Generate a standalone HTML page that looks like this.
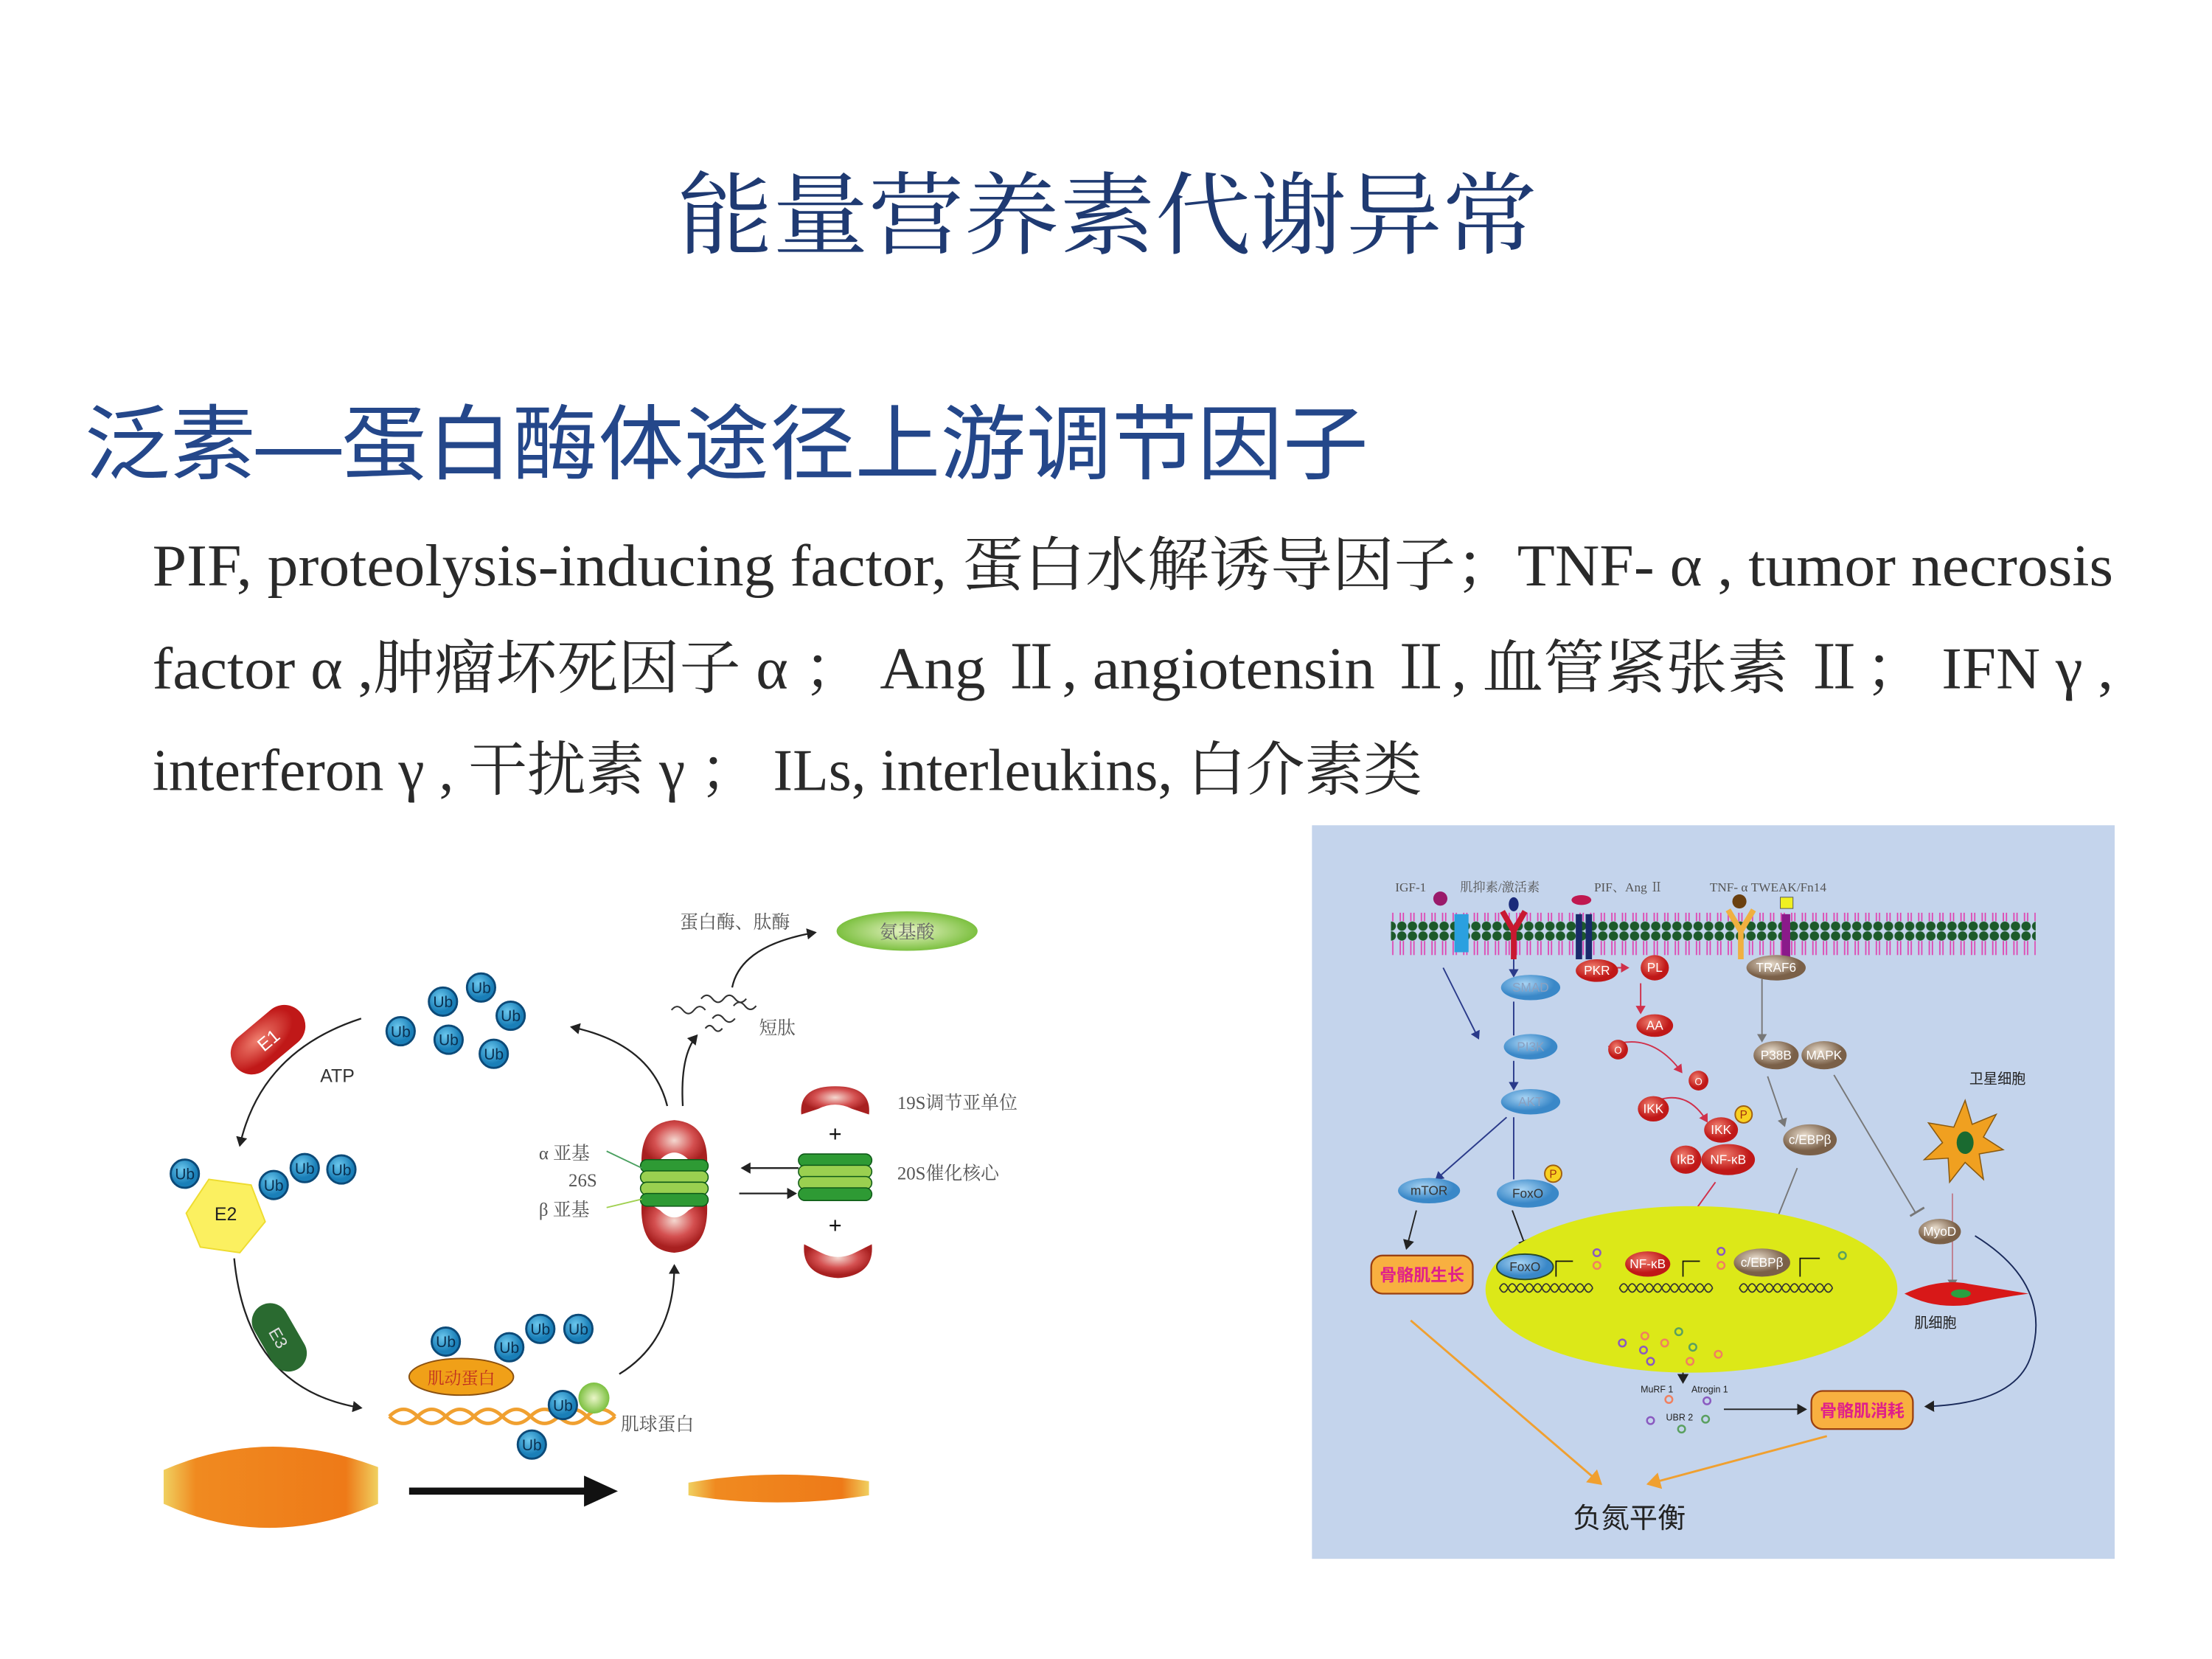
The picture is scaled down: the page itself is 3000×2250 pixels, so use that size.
<!DOCTYPE html>
<html><head><meta charset="utf-8"><style>
html,body{margin:0;padding:0;background:#fff}
svg{display:block}
.ser{font-family:"Liberation Serif","Noto Serif CJK SC",serif}
.san{font-family:"Liberation Sans","Noto Sans CJK SC",sans-serif}
</style></head><body>
<svg width="3000" height="2250" viewBox="0 0 1568 1176" preserveAspectRatio="none" xmlns="http://www.w3.org/2000/svg">
<defs>
<marker id="ak" markerWidth="8" markerHeight="8" refX="6" refY="4" orient="auto" markerUnits="userSpaceOnUse"><path d="M0,0 L7,4 L0,8 Z" fill="#222"/></marker>
<marker id="ab" markerWidth="7" markerHeight="7" refX="5" refY="3.5" orient="auto" markerUnits="userSpaceOnUse"><path d="M0,0 L6,3.5 L0,7 Z" fill="#2a3a8a"/></marker>
<marker id="ar" markerWidth="7" markerHeight="7" refX="5" refY="3.5" orient="auto" markerUnits="userSpaceOnUse"><path d="M0,0 L6,3.5 L0,7 Z" fill="#d0304a"/></marker>
<marker id="ag" markerWidth="7" markerHeight="7" refX="5" refY="3.5" orient="auto" markerUnits="userSpaceOnUse"><path d="M0,0 L6,3.5 L0,7 Z" fill="#777"/></marker>
<marker id="ao" markerWidth="12" markerHeight="12" refX="9" refY="6" orient="auto" markerUnits="userSpaceOnUse"><path d="M0,0 L10,6 L0,12 Z" fill="#f0a030"/></marker>
<marker id="abig" markerWidth="26" markerHeight="22" refX="4" refY="11" orient="auto" markerUnits="userSpaceOnUse"><path d="M0,0 L24,11 L0,22 Z" fill="#111"/></marker>
<pattern id="heads" width="7.5" height="30" patternUnits="userSpaceOnUse"><circle cx="3.7" cy="3.5" r="3.3" fill="#1d5a2a"/><circle cx="3.7" cy="26.5" r="3.3" fill="#1d5a2a"/><path d="M2.6,7 V23 M4.8,7 V23" stroke="#e040b0" stroke-width="0.9"/></pattern>
<radialGradient id="ub" cx="40%" cy="35%"><stop offset="0" stop-color="#6cc8ee"/><stop offset="1" stop-color="#1a7fb8"/></radialGradient>
<radialGradient id="rc" cx="50%" cy="40%"><stop offset="0" stop-color="#f4d8d0"/><stop offset="0.6" stop-color="#d45050"/><stop offset="1" stop-color="#a82020"/></radialGradient>
<radialGradient id="rb" cx="40%" cy="35%"><stop offset="0" stop-color="#f08070"/><stop offset="1" stop-color="#c01818"/></radialGradient>
<radialGradient id="bb" cx="40%" cy="35%"><stop offset="0" stop-color="#a8d4f4"/><stop offset="1" stop-color="#3a88c8"/></radialGradient>
<radialGradient id="br" cx="40%" cy="35%"><stop offset="0" stop-color="#e8dccc"/><stop offset="1" stop-color="#7a6048"/></radialGradient>
<linearGradient id="mus" x1="0" x2="1" y1="0" y2="0"><stop offset="0" stop-color="#f0d060"/><stop offset="0.15" stop-color="#f08a20"/><stop offset="0.85" stop-color="#ee7a18"/><stop offset="1" stop-color="#f0d060"/></linearGradient>
<radialGradient id="gb" cx="50%" cy="50%"><stop offset="0" stop-color="#eaf5c8"/><stop offset="1" stop-color="#7cc040"/></radialGradient>
<symbol id="U" viewBox="-11 -11 22 22"><circle r="10" fill="url(#ub)" stroke="#0c4a78" stroke-width="1.5"/><text y="4" text-anchor="middle" font-size="11" fill="#0a3050" font-family="Liberation Sans,sans-serif">Ub</text></symbol>
</defs>

<text x="785" y="175" text-anchor="middle" font-size="64" fill="#1f3a72" font-family="'Noto Serif CJK SC',serif" textLength="610" lengthAdjust="spacingAndGlyphs">能量营养素代谢异常</text>
<text x="60" y="335" font-size="58" fill="#24478a" font-family="'Liberation Sans','Noto Sans CJK SC',sans-serif" textLength="910" lengthAdjust="spacingAndGlyphs">泛素—蛋白酶体途径上游调节因子</text>

<g class="ser" font-size="42" fill="#2a2a2a">
<text x="108" y="415" textLength="1390" lengthAdjust="spacingAndGlyphs">PIF, proteolysis-inducing factor, 蛋白水解诱导因子；TNF- α , tumor necrosis</text>
<text x="108" y="488" textLength="1390" lengthAdjust="spacingAndGlyphs">factor α ,肿瘤坏死因子 α ； Ang Ⅱ, angiotensin Ⅱ, 血管紧张素 Ⅱ； IFN γ ,</text>
<text x="108" y="560" textLength="900" lengthAdjust="spacingAndGlyphs">interferon γ , 干扰素 γ ； ILs, interleukins, 白介素类</text>
</g>

<g>
<path d="M256,722 Q185,745 170,812" fill="none" stroke="#222" stroke-width="1.2" marker-end="url(#ak)"/>
<path d="M166,892 Q175,985 256,998" fill="none" stroke="#222" stroke-width="1.2" marker-end="url(#ak)"/>
<path d="M439,974 Q478,950 478,897" fill="none" stroke="#222" stroke-width="1.2" marker-end="url(#ak)"/>
<path d="M473,784 Q462,740 405,728" fill="none" stroke="#222" stroke-width="1.2" marker-end="url(#ak)"/>
<path d="M484,784 Q482,748 494,734" fill="none" stroke="#222" stroke-width="1.2" marker-end="url(#ak)"/>
<path d="M519,700 Q525,670 578,661" fill="none" stroke="#222" stroke-width="1.2" marker-end="url(#ak)"/>
<path d="M566,828 H526" stroke="#222" stroke-width="1.2" marker-end="url(#ak)"/>
<path d="M524,846 H564" stroke="#222" stroke-width="1.2" marker-end="url(#ak)"/>
<line x1="290" y1="1057" x2="418" y2="1057" stroke="#111" stroke-width="5" marker-end="url(#abig)"/>
<g fill="none" stroke="#333" stroke-width="1.1">
<path d="M476,716 q4,-5 8,0 t8,0 t8,0"/><path d="M497,708 q4,-5 8,0 t8,0 t8,0 t8,0"/><path d="M505,722 q4,-5 8,0 t8,0"/><path d="M520,713 q4,-5 8,0 t8,0"/><path d="M500,729 q3,-4 6,0 t6,0"/>
</g>
<g class="ser" font-size="13" fill="#555">
<text x="482" y="658">蛋白酶、肽酶</text>
<text x="538" y="733">短肽</text>
<text x="636" y="786">19S调节亚单位</text>
<text x="636" y="836">20S催化核心</text>
<text x="382" y="822">α 亚基</text>
<text x="403" y="841">26S</text>
<text x="382" y="862">β 亚基</text>
<text x="440" y="1014">肌球蛋白</text>
</g>
<text x="227" y="767" font-size="13" fill="#333" font-family="Liberation Sans,sans-serif">ATP</text>
<ellipse cx="643" cy="660" rx="50" ry="14" fill="url(#gb)"/>
<text x="643" y="665" text-anchor="middle" font-size="13" fill="#666" class="ser">氨基酸</text>
<g transform="translate(190,737) rotate(-40)"><rect x="-30" y="-15" width="60" height="30" rx="15" fill="url(#rb)"/><text x="0" y="5" text-anchor="middle" font-size="13" fill="#fff" font-family="Liberation Sans,sans-serif">E1</text></g>
<g transform="translate(198,948) rotate(60)"><rect x="-26" y="-13" width="52" height="26" rx="13" fill="#2a6a30"/><text x="0" y="5" text-anchor="middle" font-size="12" fill="#ddd" font-family="Liberation Sans,sans-serif">E3</text></g>
<polygon points="148,836 178,840 188,866 170,888 142,884 132,860" fill="#fbf060" stroke="#eedc30"/>
<text x="160" y="865" text-anchor="middle" font-size="13" fill="#222" font-family="Liberation Sans,sans-serif">E2</text>
<use href="#U" x="330" y="689" width="22" height="22"/>
<use href="#U" x="303" y="699" width="22" height="22"/>
<use href="#U" x="351" y="709" width="22" height="22"/>
<use href="#U" x="273" y="720" width="22" height="22"/>
<use href="#U" x="307" y="726" width="22" height="22"/>
<use href="#U" x="339" y="736" width="22" height="22"/>
<use href="#U" x="120" y="821" width="22" height="22"/>
<use href="#U" x="183" y="829" width="22" height="22"/>
<use href="#U" x="205" y="817" width="22" height="22"/>
<use href="#U" x="231" y="818" width="22" height="22"/>
<use href="#U" x="305" y="940" width="22" height="22"/>
<use href="#U" x="350" y="944" width="22" height="22"/>
<use href="#U" x="372" y="931" width="22" height="22"/>
<use href="#U" x="399" y="931" width="22" height="22"/>
<ellipse cx="327" cy="976" rx="37" ry="13" fill="#f0a018" stroke="#8a5010"/>
<text x="327" y="981" text-anchor="middle" font-size="12" fill="#c03020" class="ser">肌动蛋白</text>
<g fill="none" stroke="#f0a030" stroke-width="2.5">
<path d="M276,1004 q10,-10 20,0 t20,0 t20,0 t20,0 t20,0 t20,0 t20,0 t20,0"/>
<path d="M276,1004 q10,10 20,0 t20,0 t20,0 t20,0 t20,0 t20,0 t20,0 t20,0"/>
</g>
<circle cx="421" cy="991" r="11" fill="url(#gb)"/>
<use href="#U" x="388" y="985" width="22" height="22"/>
<use href="#U" x="366" y="1013" width="22" height="22"/>
<path d="M116,1042 Q190,1010 268,1040 L268,1066 Q190,1100 116,1066 Z" fill="url(#mus)"/>
<path d="M488,1051 Q550,1040 616,1050 L616,1060 Q550,1070 488,1060 Z" fill="url(#mus)"/>
<path d="M455,830 Q452,796 478,794 Q504,796 501,830 L488,822 Q478,812 468,822 Z" fill="url(#rc)"/>
<path d="M455,850 Q452,886 478,888 Q504,886 501,850 L488,858 Q478,868 468,858 Z" fill="url(#rc)"/>
<g stroke="#0e5a18" stroke-width="0.8">
<rect x="454" y="822" width="48" height="9" rx="4.5" fill="#2e9a34"/>
<rect x="454" y="830" width="48" height="9" rx="4.5" fill="#9ad050"/>
<rect x="454" y="838" width="48" height="9" rx="4.5" fill="#9ad050"/>
<rect x="454" y="846" width="48" height="9" rx="4.5" fill="#2e9a34"/>
</g>
<path d="M568,790 Q566,770 592,770 Q618,770 616,790 L604,786 Q592,780 580,786 Z" fill="url(#rc)"/>
<text x="592" y="809" text-anchor="middle" font-size="16" fill="#111" font-family="Liberation Sans,sans-serif">+</text>
<g stroke="#0e5a18" stroke-width="0.8">
<rect x="566" y="818" width="52" height="9" rx="4.5" fill="#2e9a34"/>
<rect x="566" y="826" width="52" height="9" rx="4.5" fill="#9ad050"/>
<rect x="566" y="834" width="52" height="9" rx="4.5" fill="#9ad050"/>
<rect x="566" y="842" width="52" height="9" rx="4.5" fill="#2e9a34"/>
</g>
<text x="592" y="874" text-anchor="middle" font-size="16" fill="#111" font-family="Liberation Sans,sans-serif">+</text>
<path d="M570,882 Q568,904 594,906 Q620,904 618,882 L606,888 Q594,894 582,888 Z" fill="url(#rc)"/>
<line x1="430" y1="816" x2="455" y2="828" stroke="#4aa060" stroke-width="1"/>
<line x1="430" y1="856" x2="455" y2="850" stroke="#a0d050" stroke-width="1"/>
</g>

<rect x="930" y="585" width="569" height="520" fill="#c4d4ec"/>
<rect x="986" y="647" width="457" height="30" fill="url(#heads)"/>
<g class="ser" font-size="9" fill="#555">
<text x="989" y="632">IGF-1</text><text x="1035" y="632">肌抑素/激活素</text><text x="1130" y="632">PIF、Ang Ⅱ</text><text x="1212" y="632">TNF- α  TWEAK/Fn14</text>
</g>
<circle cx="1021" cy="637" r="5" fill="#9a1a6a"/>
<rect x="1031" y="648" width="10" height="27" fill="#2aa0e0"/>
<ellipse cx="1073" cy="641" rx="3.5" ry="5" fill="#1a2a7a"/>
<path d="M1065,646 L1073,660 L1081,646 M1073,660 V680" stroke="#c81830" stroke-width="4" fill="none"/>
<ellipse cx="1121" cy="638" rx="7" ry="3.5" fill="#c01850"/>
<rect x="1117" y="648" width="4.5" height="32" fill="#1a2a6a"/><rect x="1124" y="648" width="4.5" height="32" fill="#1a2a6a"/>
<circle cx="1233" cy="639" r="5" fill="#6a4010"/>
<path d="M1225,645 L1234,660 L1243,645 M1234,660 V680" stroke="#f0b040" stroke-width="4" fill="none"/>
<rect x="1262" y="636" width="9" height="8" fill="#f0f020" stroke="#555" stroke-width="0.5"/>
<rect x="1263" y="648" width="6" height="32" fill="#8a1a8a"/>

<g fill="none" stroke-width="1">
<path d="M1023,686 L1048,736" stroke="#2a3a8a" marker-end="url(#ab)"/>
<path d="M1073,680 V692" stroke="#2a3a8a" marker-end="url(#ab)"/>
<path d="M1073,710 V734" stroke="#2a3a8a"/>
<path d="M1073,752 V772" stroke="#2a3a8a" marker-end="url(#ab)"/>
<path d="M1068,792 L1018,836" stroke="#2a3a8a" marker-end="url(#ab)"/>
<path d="M1073,792 V836" stroke="#2a3a8a"/>
<path d="M1004,858 L997,885" stroke="#222" marker-end="url(#ak)"/>
<path d="M1072,858 L1082,885" stroke="#222" marker-end="url(#ak)"/>
<path d="M1140,686 H1154" stroke="#d0304a" marker-end="url(#ar)"/>
<path d="M1163,697 V718" stroke="#d0304a" marker-end="url(#ar)"/>
<path d="M1140,742 Q1170,730 1192,760" stroke="#d0304a" marker-end="url(#ar)"/>
<path d="M1170,782 Q1195,770 1210,795" stroke="#d0304a" marker-end="url(#ar)"/>
<path d="M1216,838 L1180,888" stroke="#d0304a"/>
<path d="M1249,694 V738" stroke="#777" marker-end="url(#ag)"/>
<path d="M1253,763 L1265,798" stroke="#777" marker-end="url(#ag)"/>
<path d="M1274,828 L1250,888" stroke="#777"/>
<path d="M1300,762 L1358,860" stroke="#777"/>
<path d="M1354,862 L1364,856" stroke="#777" stroke-width="1.5"/>
<path d="M1384,846 V912" stroke="#c08090" marker-end="url(#ag)"/>
<path d="M1400,876 Q1455,910 1440,960 Q1430,995 1365,997" stroke="#1a2a5a" marker-end="url(#ak)"/>
<path d="M1193,958 V980" stroke="#222" marker-end="url(#ak)"/>
<path d="M1222,999 H1280" stroke="#222" marker-end="url(#ak)"/>
<path d="M1000,936 L1135,1052" stroke="#f0a030" stroke-width="1.5" marker-end="url(#ao)"/>
<path d="M1295,1018 L1168,1052" stroke="#f0a030" stroke-width="1.5" marker-end="url(#ao)"/>
</g>

<ellipse cx="1199" cy="914" rx="146" ry="59" fill="#dce818"/>
<g fill="none" stroke="#333" stroke-width="0.9">
<path d="M1063,913 q3,-6 6,0 t6,0 t6,0 t6,0 t6,0 t6,0 t6,0 t6,0 t6,0 t6,0 t6,0"/>
<path d="M1063,913 q3,6 6,0 t6,0 t6,0 t6,0 t6,0 t6,0 t6,0 t6,0 t6,0 t6,0 t6,0"/>
<path d="M1148,913 q3,-6 6,0 t6,0 t6,0 t6,0 t6,0 t6,0 t6,0 t6,0 t6,0 t6,0 t6,0"/>
<path d="M1148,913 q3,6 6,0 t6,0 t6,0 t6,0 t6,0 t6,0 t6,0 t6,0 t6,0 t6,0 t6,0"/>
<path d="M1233,913 q3,-6 6,0 t6,0 t6,0 t6,0 t6,0 t6,0 t6,0 t6,0 t6,0 t6,0 t6,0"/>
<path d="M1233,913 q3,6 6,0 t6,0 t6,0 t6,0 t6,0 t6,0 t6,0 t6,0 t6,0 t6,0 t6,0"/>
<path d="M1103,905 V894 H1115 M1193,905 V894 H1205 M1276,905 V892 H1290" stroke="#111"/>
</g>
<g stroke-width="1.3" fill="none">
<circle cx="1132" cy="888" r="2.5" stroke="#8a5ac0"/><circle cx="1132" cy="897" r="2.5" stroke="#f08060"/>
<circle cx="1220" cy="887" r="2.5" stroke="#8a5ac0"/><circle cx="1220" cy="897" r="2.5" stroke="#f08060"/>
<circle cx="1306" cy="890" r="2.5" stroke="#5aa060"/>
<circle cx="1166" cy="947" r="2.5" stroke="#f08060"/><circle cx="1190" cy="944" r="2.5" stroke="#5aa060"/><circle cx="1150" cy="952" r="2.5" stroke="#8a5ac0"/>
<circle cx="1165" cy="957" r="2.5" stroke="#8a5ac0"/><circle cx="1180" cy="952" r="2.5" stroke="#f08060"/><circle cx="1200" cy="955" r="2.5" stroke="#5aa060"/>
<circle cx="1170" cy="965" r="2.5" stroke="#8a5ac0"/><circle cx="1198" cy="965" r="2.5" stroke="#f08060"/><circle cx="1218" cy="960" r="2.5" stroke="#f08060"/>
<circle cx="1170" cy="1007" r="2.5" stroke="#8a5ac0"/><circle cx="1183" cy="992" r="2.5" stroke="#f08060"/><circle cx="1210" cy="993" r="2.5" stroke="#8a5ac0"/><circle cx="1192" cy="1013" r="2.5" stroke="#5aa060"/><circle cx="1209" cy="1006" r="2.5" stroke="#5aa060"/>
</g>
<g font-family="Liberation Sans,sans-serif" font-size="6.5" fill="#222">
<text x="1163" y="987">MuRF 1</text><text x="1199" y="987">Atrogin 1</text><text x="1181" y="1007">UBR 2</text>
</g>

<g font-family="Liberation Sans,sans-serif" font-size="9" text-anchor="middle">
<ellipse cx="1085" cy="700" rx="21" ry="9" fill="url(#bb)"/><text x="1085" y="703" fill="#8aa0c0">SMAD</text>
<ellipse cx="1085" cy="742" rx="19" ry="9" fill="url(#bb)"/><text x="1085" y="745" fill="#8aa0c0">PI3K</text>
<ellipse cx="1085" cy="781" rx="21" ry="9" fill="url(#bb)"/><text x="1085" y="784" fill="#8aa0c0">AKT</text>
<ellipse cx="1013" cy="844" rx="22" ry="9" fill="url(#bb)"/><text x="1013" y="847" fill="#333">mTOR</text>
<ellipse cx="1083" cy="846" rx="22" ry="10" fill="url(#bb)"/><text x="1083" y="849" fill="#333">FoxO</text>
<circle cx="1101" cy="832" r="6" fill="#f8d020" stroke="#a06010"/><text x="1101" y="835" fill="#a03010" font-size="8">P</text>
<ellipse cx="1132" cy="688" rx="15" ry="8" fill="url(#rb)"/><text x="1132" y="691" fill="#fff">PKR</text>
<ellipse cx="1173" cy="686" rx="10" ry="9" fill="url(#rb)"/><text x="1173" y="689" fill="#fff">PL</text>
<ellipse cx="1173" cy="727" rx="13" ry="8" fill="url(#rb)"/><text x="1173" y="730" fill="#fff">AA</text>
<circle cx="1147" cy="744" r="7" fill="url(#rb)"/><text x="1147" y="747" fill="#fff" font-size="7">O</text>
<circle cx="1204" cy="766" r="7" fill="url(#rb)"/><text x="1204" y="769" fill="#fff" font-size="7">O</text>
<ellipse cx="1172" cy="786" rx="11" ry="9" fill="url(#rb)"/><text x="1172" y="789" fill="#fff">IKK</text>
<ellipse cx="1220" cy="801" rx="12" ry="9" fill="url(#rb)"/><text x="1220" y="804" fill="#fff">IKK</text>
<circle cx="1236" cy="790" r="6" fill="#f8d020" stroke="#a06010"/><text x="1236" y="793" fill="#a03010" font-size="8">P</text>
<ellipse cx="1195" cy="822" rx="11" ry="10" fill="url(#rb)"/><text x="1195" y="825" fill="#fff">IkB</text>
<ellipse cx="1225" cy="822" rx="19" ry="11" fill="url(#rb)"/><text x="1225" y="825" fill="#fff">NF-κB</text>
<ellipse cx="1259" cy="686" rx="21" ry="9" fill="url(#br)"/><text x="1259" y="689" fill="#fff">TRAF6</text>
<ellipse cx="1259" cy="748" rx="16" ry="10" fill="url(#br)"/><text x="1259" y="751" fill="#fff">P38B</text>
<ellipse cx="1293" cy="748" rx="16" ry="10" fill="url(#br)"/><text x="1293" y="751" fill="#fff">MAPK</text>
<ellipse cx="1283" cy="808" rx="19" ry="11" fill="url(#br)"/><text x="1283" y="811" fill="#fff">c/EBPβ</text>
<ellipse cx="1375" cy="873" rx="15" ry="9" fill="url(#br)"/><text x="1375" y="876" fill="#fff">MyoD</text>
<ellipse cx="1081" cy="898" rx="20" ry="9" fill="url(#bb)" stroke="#2a4a2a"/><text x="1081" y="901" fill="#333">FoxO</text>
<ellipse cx="1168" cy="896" rx="16" ry="9" fill="url(#rb)"/><text x="1168" y="899" fill="#fff">NF-κB</text>
<ellipse cx="1249" cy="895" rx="20" ry="10" fill="url(#br)"/><text x="1249" y="898" fill="#fff">c/EBPβ</text>
</g>
<polygon points="1393,780 1398,797 1415,790 1406,806 1420,815 1403,818 1406,836 1393,824 1382,838 1381,821 1364,822 1377,810 1367,796 1385,799" fill="#f0a020" stroke="#8a5a10" stroke-width="0.8"/>
<ellipse cx="1393" cy="810" rx="6" ry="8" fill="#1a6a30"/>
<text x="1416" y="768" text-anchor="middle" font-size="10" fill="#222" font-family="'Noto Sans CJK SC',sans-serif">卫星细胞</text>
<path d="M1350,917 Q1375,906 1395,910 Q1420,914 1438,917 Q1415,920 1395,925 Q1370,928 1350,917 Z" fill="#d81818"/>
<ellipse cx="1390" cy="917" rx="7" ry="3" fill="#2aa040"/>
<text x="1372" y="941" text-anchor="middle" font-size="10" fill="#222" font-family="'Noto Sans CJK SC',sans-serif">肌细胞</text>
<rect x="972" y="890" width="72" height="27" rx="8" fill="#f8b040" stroke="#9a4010" stroke-width="1.2"/>
<text x="1008" y="908" text-anchor="middle" font-size="12" font-weight="bold" fill="#e0208a" font-family="'Noto Sans CJK SC',sans-serif">骨骼肌生长</text>
<rect x="1284" y="986" width="72" height="27" rx="8" fill="#f8b040" stroke="#9a4010" stroke-width="1.2"/>
<text x="1320" y="1004" text-anchor="middle" font-size="12" font-weight="bold" fill="#e0208a" font-family="'Noto Sans CJK SC',sans-serif">骨骼肌消耗</text>
<text x="1155" y="1083" text-anchor="middle" font-size="20" fill="#222" font-family="'Noto Sans CJK SC',sans-serif">负氮平衡</text>
</svg>
</body></html>
